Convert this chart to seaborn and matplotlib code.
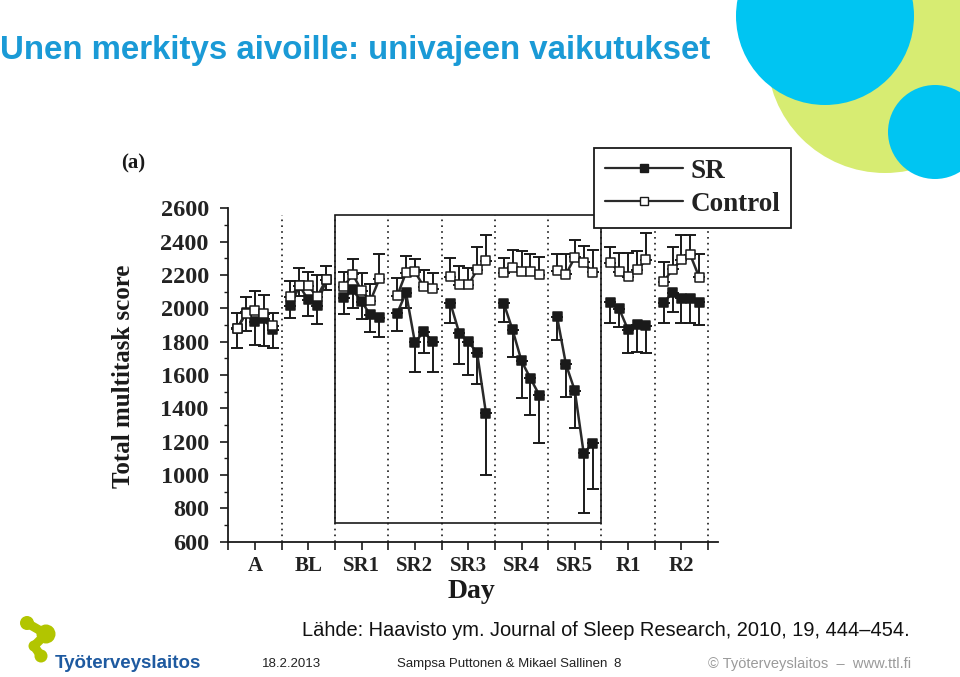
import numpy as np
import pandas as pd
import seaborn as sns
import matplotlib.pyplot as plt
from matplotlib.lines import Line2D
from matplotlib.patches import Circle, Rectangle
from matplotlib.ticker import MultipleLocator

# data (5 test sessions per day)
days = ["A", "BL", "SR1", "SR2", "SR3", "SR4", "SR5", "R1", "R2"]
sessions = [1, 2, 3, 4, 5]

sr_mean = [
    [1880, 1975, 1920, 1936, 1870],
    [2014, 2136, 2050, 2016, 2170],
    [2064, 2110, 2040, 1960, 1944],
    [1970, 2094, 1796, 1860, 1800],
    [2030, 1850, 1800, 1734, 1370],
    [2030, 1870, 1684, 1580, 1480],
    [1950, 1664, 1506, 1130, 1190],
    [2036, 1996, 1870, 1900, 1894],
    [2034, 2094, 2060, 2056, 2036],
]
sr_low = [
    [1760, 1864, 1780, 1774, 1760],
    [1940, 2076, 1954, 1906, 2110],
    [1964, 2000, 1936, 1856, 1826],
    [1864, 2000, 1616, 1730, 1616],
    [1914, 1664, 1600, 1544, 1000],
    [1920, 1706, 1464, 1360, 1190],
    [1810, 1466, 1280, 774, 914],
    [1914, 1890, 1730, 1736, 1730],
    [1914, 1976, 1914, 1914, 1900],
]
ctrl_mean = [
    [1876, 1970, 1984, 1966, 1894],
    [2070, 2136, 2134, 2070, 2170],
    [2130, 2204, 2106, 2046, 2176],
    [2074, 2214, 2220, 2130, 2116],
    [2190, 2140, 2140, 2230, 2286],
    [2214, 2246, 2220, 2220, 2200],
    [2226, 2204, 2306, 2276, 2216],
    [2274, 2220, 2190, 2230, 2290],
    [2160, 2234, 2290, 2320, 2186],
]
ctrl_high = [
    [1970, 2070, 2104, 2082, 1974],
    [2166, 2244, 2220, 2200, 2256],
    [2216, 2296, 2210, 2146, 2324],
    [2184, 2314, 2296, 2230, 2210],
    [2304, 2256, 2240, 2370, 2440],
    [2304, 2350, 2344, 2326, 2310],
    [2324, 2324, 2410, 2376, 2350],
    [2370, 2330, 2330, 2346, 2454],
    [2280, 2366, 2440, 2440, 2324],
]
sr_days = ["SR1", "SR2", "SR3", "SR4", "SR5"]

title = "Unen merkitys aivoille: univajeen vaikutukset"
source = "Lähde: Haavisto ym. Journal of Sleep Research, 2010, 19, 444\u2013454."


def build_frame():
    rows = []
    for group, means, bounds in [("SR", sr_mean, sr_low), ("Control", ctrl_mean, ctrl_high)]:
        for i, d in enumerate(days):
            for j, s in enumerate(sessions):
                rows.append({"group": group, "day": d, "x": i + s / 6.0,
                             "score": means[i][j], "bound": bounds[i][j]})
    return pd.DataFrame(rows)


df = build_frame()

sns.set_style("ticks")
plt.rcParams["font.family"] = ["Liberation Sans", "DejaVu Sans"]
SERIF = ["Liberation Serif", "DejaVu Serif"]
INK = "#1a1a1a"

fig = plt.figure(figsize=(9.6, 6.77), dpi=100)

# slide background layer in pixel coords
bg = fig.add_axes([0, 0, 1, 1], zorder=0)
bg.set_xlim(0, 960)
bg.set_ylim(677, 0)
bg.axis("off")
bg.add_patch(Circle((885, 55), 118, color="#d7ec72", lw=0))
bg.add_patch(Circle((825, 16), 89, color="#00c5f2", lw=0))
bg.add_patch(Circle((935, 132), 47, color="#00c5f2", lw=0))
# logo blob
for cx, cy, r in [(27, 623, 7), (46, 634, 9.5), (34, 646, 5.5), (41, 656, 6.5)]:
    bg.add_patch(Circle((cx, cy), r, color="#b2c500", lw=0))
bg.plot([27, 46, 34, 41], [623, 634, 646, 656], color="#b2c500", lw=6.5, solid_capstyle="round")

bg.text(0, 50, title, fontsize=23.8, fontweight="bold", color="#1a9ad6", va="center", ha="left")
bg.text(302, 631, source, fontsize=14.45, color="#111111", va="center", ha="left")
bg.text(55, 664, "Työterveyslaitos", fontsize=13.5, fontweight="bold", color="#1e5aa0", va="center")
bg.text(262, 664, "18.2.2013", fontsize=9.5, color="#222222", va="center")
bg.text(397, 664, "Sampsa Puttonen & Mikael Sallinen", fontsize=9.5, color="#222222", va="center")
bg.text(613, 664, "8", fontsize=9.5, color="#222222", va="center")
bg.text(708, 664, "\u00a9 Työterveyslaitos  \u2013  www.ttl.fi", fontsize=10.5, color="#9a9a9a", va="center")
bg.text(133, 163, "(a)", fontsize=15, fontweight="bold", family=SERIF, color=INK, ha="center", va="center")

# chart
ax = fig.add_axes([228.3 / 960, (677 - 541.7) / 677, 489.4 / 960, 333.4 / 677], zorder=1)
ax.set_facecolor("none")

for k in range(1, len(days) + 1):
    ax.axvline(k, ymin=0, ymax=0.98, color=INK, ls=(0, (1, 2.5)), lw=1.2, zorder=1)

first = days.index(sr_days[0])
ax.add_patch(Rectangle((first, 712), len(sr_days), 2560 - 712, fill=False, ec=INK, lw=1.2, zorder=1))

sr = df[df.group == "SR"]
ct = df[df.group == "Control"]
ax.errorbar(sr.x, sr.score, yerr=[sr.score - sr.bound, np.zeros(len(sr))], fmt="none",
            ecolor=INK, elinewidth=1.4, capsize=4.5, capthick=1.4, zorder=2)
ax.errorbar(ct.x, ct.score, yerr=[np.zeros(len(ct)), ct.bound - ct.score], fmt="none",
            ecolor=INK, elinewidth=1.4, capsize=4.5, capthick=1.4, zorder=2)

sns.lineplot(data=df, x="x", y="score", hue="group", units="day", estimator=None,
             palette={"SR": "#2a2a2a", "Control": "#2a2a2a"}, linewidth=1.8,
             legend=False, sort=False, ax=ax, zorder=3)
sns.scatterplot(data=df, x="x", y="score", hue="group",
                palette={"SR": INK, "Control": "white"}, marker="s", s=42,
                edgecolor=INK, linewidth=1.1, legend=False, ax=ax, zorder=4)

ax.set_xlim(0, 9.18)
ax.set_ylim(600, 2600)
ax.set_xticks(np.arange(len(days)) + 0.5)
ax.set_xticklabels(days)
ax.xaxis.set_minor_locator(MultipleLocator(1))
ax.yaxis.set_major_locator(MultipleLocator(200))
ax.yaxis.set_minor_locator(MultipleLocator(100))
ax.tick_params(axis="x", which="both", direction="out", length=6, width=1.2, color=INK, pad=4)
ax.tick_params(axis="y", which="major", direction="out", length=6, width=1.2, color=INK, pad=8)
ax.tick_params(axis="y", which="minor", direction="out", length=3, width=1.0, color=INK)
for lab in ax.get_xticklabels():
    lab.set_fontfamily(SERIF)
    lab.set_fontweight("bold")
    lab.set_fontsize(15)
    lab.set_color("#222222")
for lab in ax.get_yticklabels():
    lab.set_fontfamily(SERIF)
    lab.set_fontweight("bold")
    lab.set_fontsize(17.5)
    lab.set_color("#222222")
sns.despine(ax=ax)
for sp in ["left", "bottom"]:
    ax.spines[sp].set_linewidth(1.3)
    ax.spines[sp].set_color(INK)

ax.set_xlabel("Day", family=SERIF, fontweight="bold", fontsize=20, color=INK, va="center")
ax.xaxis.set_label_coords(0.496, -0.15)
ax.set_ylabel("Total multitask score", family=SERIF, fontweight="bold", fontsize=18, color=INK, va="center")
ax.yaxis.set_label_coords(-0.215, 0.497)

handles = [
    Line2D([], [], color="#2a2a2a", lw=1.6, marker="s", ms=6, mfc=INK, mec=INK),
    Line2D([], [], color="#2a2a2a", lw=1.6, marker="s", ms=6, mfc="white", mec=INK),
]
leg = ax.legend(handles, ["SR", "Control"], loc="upper left",
                bbox_to_anchor=(594 / 960, 1 - 148 / 677), bbox_transform=fig.transFigure,
                prop={"family": SERIF, "weight": "bold", "size": 19.5},
                handlelength=2.9, handletextpad=0.25, labelspacing=0.3, borderpad=0.4,
                borderaxespad=0, fancybox=False, framealpha=1, edgecolor=INK)
leg.get_frame().set_linewidth(1.3)
for t in leg.get_texts():
    t.set_color("#222222")

fig.savefig("out.png", dpi=100)
